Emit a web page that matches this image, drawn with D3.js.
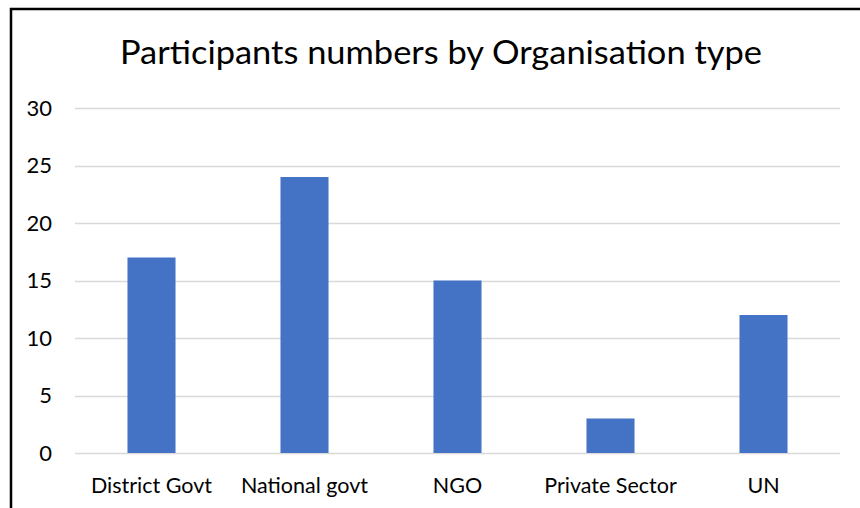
<!DOCTYPE html>
<html>
<head>
<meta charset="utf-8">
<script src="https://cdn.jsdelivr.net/npm/d3@7"></script>
<style>
  body { margin: 0; background: #fff; }
  svg text { font-family: Lato, "Open Sans", "Noto Sans", sans-serif; fill: #000; }
</style>
</head>
<body>
<div id="chart"></div>
<script>
//chart data
var categories = ['District Govt', 'National govt', 'NGO', 'Private Sector', 'UN'];
var participants = [17, 24, 15, 3, 12];
var yTicks = [0, 5, 10, 15, 20, 25, 30];
var chartTitle = 'Participants numbers by Organisation type';

var width = 860, height = 508,
    fontStack = 'Lato, "Open Sans", "Noto Sans", sans-serif',
    plot = { left: 75, right: 840, top: 108, bottom: 453 };

var svg = d3.select('#chart').append('svg')
    .attr('width', width)
    .attr('height', height);

//outer frame (left and top edges visible)
svg.append('path')
    .attr('d', 'M11,' + height + 'V9H' + width)
    .attr('fill', 'none')
    .attr('stroke', '#000')
    .attr('stroke-width', 2.5);

//scales
var x = d3.scaleBand()
    .domain(categories)
    .range([plot.left, plot.right])
    .paddingInner(0.686)
    .paddingOuter(0.343);

var y = d3.scaleLinear()
    .domain([0, 30])
    .range([plot.bottom, plot.top]);

//gridlines
svg.append('g').selectAll('line')
    .data(yTicks)
    .enter()
    .append('line')
    .attr('x1', plot.left)
    .attr('x2', plot.right)
    .attr('y1', function (d) { return Math.round(y(d)) + 0.5; })
    .attr('y2', function (d) { return Math.round(y(d)) + 0.5; })
    .attr('stroke', '#d9d9d9')
    .attr('stroke-width', 1.5);

//bars
svg.append('g').selectAll('rect')
    .data(participants)
    .enter()
    .append('rect')
    .attr('x', function (d, i) { return x(categories[i]); })
    .attr('width', x.bandwidth())
    .attr('y', function (d) { return y(d); })
    .attr('height', function (d) { return y(0) - y(d); })
    .attr('fill', '#4472c4');

//y axis labels
var yAxis = d3.axisLeft(y).tickValues(yTicks).tickSize(0).tickPadding(0);
svg.append('g')
    .attr('transform', 'translate(52,0)')
    .call(yAxis)
    .call(function (g) { g.select('.domain').remove(); })
    .selectAll('text')
    .attr('font-size', 22)
    .attr('fill', '#000')
    .style('font-family', fontStack);

//x axis labels
var xAxis = d3.axisBottom(x).tickSize(0).tickPadding(0);
svg.append('g')
    .attr('transform', 'translate(0,493)')
    .call(xAxis)
    .call(function (g) { g.select('.domain').remove(); })
    .selectAll('text')
    .attr('y', 0)
    .attr('dy', 0)
    .attr('font-size', 21.5)
    .attr('fill', '#000')
    .style('font-family', fontStack);

//title
var title = svg.append('text')
    .attr('x', 441)
    .attr('y', 64)
    .attr('text-anchor', 'middle')
    .attr('font-size', 32)
    .text(chartTitle);

//fit title width to the reference span
var tw = title.node().getComputedTextLength();
if (Math.abs(tw - 642) > 4)
    title.attr('textLength', 642).attr('lengthAdjust', 'spacingAndGlyphs');
</script>
</body>
</html>
